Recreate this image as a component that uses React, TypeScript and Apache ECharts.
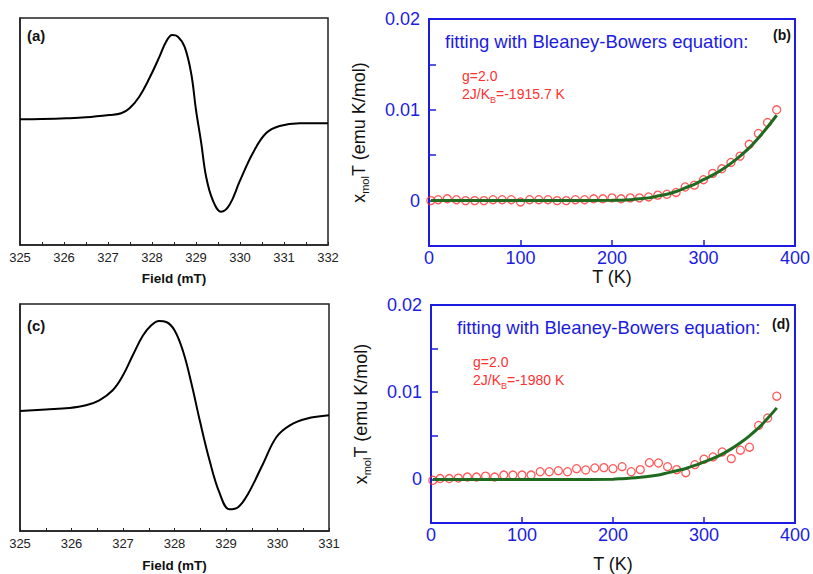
import React, { useEffect, useRef } from "react";
import * as echarts from "echarts";

// Panel (a) EPR spectrum
const fieldA = [325.0, 325.5, 326.05, 326.5, 327.03, 327.3, 327.49, 327.71, 327.94, 328.17, 328.32, 328.46, 328.59, 328.74, 328.89, 329.0, 329.12, 329.23, 329.38, 329.57, 329.76, 329.99, 330.29, 330.59, 330.9, 331.36, 332.0];
const intensityA = [125.7, 126.0, 126.7, 127.7, 130, 131.7, 136.7, 148.3, 166.7, 188.3, 203.3, 210, 208.3, 198.3, 171.7, 135, 101.7, 68.3, 45, 33.3, 40, 63.3, 91.7, 111.7, 119, 121.7, 121.7];

// Panel (c) EPR spectrum
const fieldC = [325.0, 325.5, 325.96, 326.28, 326.54, 326.8, 327.0, 327.19, 327.39, 327.55, 327.7, 327.84, 328.0, 328.17, 328.33, 328.49, 328.68, 328.88, 329.07, 329.24, 329.43, 329.72, 329.98, 330.24, 330.56, 331.0];
const intensityC = [120, 121.5, 123, 125.7, 130.7, 140.7, 155.7, 175.7, 195.7, 205.7, 210, 209, 200.7, 179, 147.3, 110.7, 70.7, 37.3, 21.7, 24, 37.3, 67.3, 94, 105.7, 112.3, 115.7];

// Temperatures of measured points (b) and (d)
const tempPts = [2, 10, 20, 30, 40, 50, 60, 70, 80, 90, 100, 110, 120, 130, 140, 150, 160, 170, 180, 190, 200, 210, 220, 230, 240, 250, 260, 270, 280, 290, 300, 310, 320, 330, 340, 350, 360, 370, 380];
const chiTB = [0, 0.0001, 0.0002, 0.0001, 0, 0, 0, 0.0001, 0.0001, 0.0001, -0.00015, 0.0001, 0.0001, 0.0001, 0, 0, 0.0001, 0.0001, 0.0002, 0.0002, 0.0003, 0.0002, 0.0003, 0.0003, 0.0004, 0.0006, 0.0007, 0.0009, 0.0015, 0.0017, 0.0023, 0.003, 0.0035, 0.0042, 0.0049, 0.0062, 0.0074, 0.0086, 0.01];
const chiTD = [-0.0001, 0.0001, 0.0001, 0.00015, 0.00027, 0.00027, 0.00038, 0.00027, 0.0005, 0.0005, 0.0005, 0.0005, 0.00088, 0.00088, 0.001, 0.00088, 0.00123, 0.00108, 0.00131, 0.00135, 0.00123, 0.00146, 0.00088, 0.00112, 0.00192, 0.00188, 0.00146, 0.00112, 0.00077, 0.00169, 0.00231, 0.00258, 0.00315, 0.00238, 0.00335, 0.00369, 0.00619, 0.00704, 0.00954];

// Fit curves
const fitTB = [2, 50, 100, 150, 200, 220, 230, 240, 250, 260, 270, 280, 290, 300, 310, 320, 330, 340, 350, 360, 370, 380];
const fitB = [0, 0, 0, 0, 0.00003, 0.0001, 0.0002, 0.0003, 0.0005, 0.0007, 0.001, 0.0014, 0.0018, 0.0023, 0.0028, 0.0034, 0.0041, 0.0049, 0.0058, 0.0069, 0.0081, 0.0094];
const fitTD = [2, 50, 100, 150, 200, 210, 220, 230, 240, 250, 260, 270, 280, 290, 300, 310, 320, 330, 340, 350, 360, 370, 380];
const fitD = [0, 0, 0, 0, 0.00002, 0.00008, 0.00015, 0.00024, 0.00035, 0.0005, 0.00075, 0.001, 0.00125, 0.0016, 0.002, 0.0024, 0.0029, 0.0035, 0.0042, 0.005, 0.0059, 0.007, 0.0082];

const chiTicks = [-0.005, 0, 0.005, 0.01, 0.015, 0.02];

const BLUE = "#1c1ce0";
const RED = "#ff3030";
const GREEN = "#1f6a1f";
const FONT = "Liberation Sans, Arial, sans-serif";

const zip = (a: number[], b: number[]) => a.map((v, i) => [v, b[i]]);

export default function App() {
  const ref = useRef<HTMLDivElement>(null);
  useEffect(() => {
    if (!ref.current) return;
    const chart = echarts.init(ref.current, undefined, { renderer: "svg" });

    const eprX = (gi: number, max: number, gap: number) => ({
      type: "value",
      gridIndex: gi,
      min: 325,
      max,
      interval: 1,
      name: "Field (mT)",
      nameLocation: "middle",
      nameGap: gap,
      nameTextStyle: { fontSize: 13.5, fontWeight: "bold", color: "#111", fontFamily: FONT },
      axisLine: { show: true, onZero: false, lineStyle: { color: "#222", width: 1.5 } },
      axisTick: { show: true, inside: true, length: 3, lineStyle: { color: "#222" } },
      minorTick: { show: true, splitNumber: 2, length: 3, lineStyle: { color: "#222" } },
      axisLabel: { fontSize: 13, color: "#222", margin: 6, fontFamily: FONT },
      splitLine: { show: false },
    });
    const eprY = (gi: number) => ({
      type: "value",
      gridIndex: gi,
      min: 0,
      max: 227,
      axisLine: { show: true, onZero: false, lineStyle: { color: "#222", width: 1.5 } },
      axisTick: { show: false },
      axisLabel: { show: false },
      splitLine: { show: false },
    });
    const tX = (gi: number, gap: number) => ({
      type: "value",
      gridIndex: gi,
      min: 0,
      max: 400,
      interval: 100,
      name: "T (K)",
      nameLocation: "middle",
      nameGap: gap,
      nameTextStyle: { fontSize: 18, color: "#111", fontFamily: FONT },
      axisLine: { show: true, onZero: false, lineStyle: { color: BLUE, width: 2 } },
      axisTick: { show: true, inside: true, length: 6, lineStyle: { color: BLUE, width: 1.5 } },
      axisLabel: { fontSize: 18, color: BLUE, margin: 3, fontFamily: FONT },
      splitLine: { show: false },
    });
    const chiY = (gi: number) => ({
      type: "value",
      gridIndex: gi,
      min: chiTicks[0],
      max: chiTicks[chiTicks.length - 1],
      interval: 0.005,
      name: "{a|x}{b|mol}{a|T (emu K/mol)}",
      nameLocation: "middle",
      nameGap: 59,
      nameRotate: 90,
      nameTextStyle: {
        fontFamily: FONT,
        color: "#111",
        rich: {
          a: { fontSize: 18, color: "#111", fontFamily: FONT },
          b: { fontSize: 11, color: "#111", fontFamily: FONT, padding: [12, 0, 0, 0] },
        },
      },
      axisLine: { show: true, onZero: false, lineStyle: { color: BLUE, width: 2 } },
      axisTick: { show: true, inside: true, length: 7, lineStyle: { color: BLUE, width: 1.5 } },
      axisLabel: {
        fontSize: 18,
        color: BLUE,
        margin: 9,
        fontFamily: FONT,
        padding: [0, 0, 7, 0],
        formatter: (v: number) => {
          const r = Math.round(v / 0.01);
          if (Math.abs(v - r * 0.01) > 1e-9) return "";
          return r === 0 ? "0" : (r * 0.01).toFixed(2);
        },
      },
      splitLine: { show: false },
    });

    const txt = (x: number, y: number, text: string, opts: any) => ({
      type: "text",
      x,
      y,
      style: { text, fontFamily: FONT, verticalAlign: "middle", align: "left", ...opts },
    });

    chart.setOption({
      animation: false,
      textStyle: { fontFamily: FONT },
      grid: [
        { left: 20, top: 18, width: 308, height: 227, show: true, borderColor: "#222", borderWidth: 1.5 },
        { left: 429, top: 19, width: 371, height: 227, show: true, borderColor: BLUE, borderWidth: 2 },
        { left: 20, top: 304, width: 309, height: 227, show: true, borderColor: "#222", borderWidth: 1.5 },
        { left: 431, top: 305, width: 366, height: 219, show: true, borderColor: BLUE, borderWidth: 2 },
      ],
      xAxis: [eprX(0, 332, 26), tX(1, 22), eprX(2, 331, 27), tX(3, 32)],
      yAxis: [eprY(0), chiY(1), eprY(2), chiY(3)],
      series: [
        {
          type: "line", xAxisIndex: 0, yAxisIndex: 0, data: zip(fieldA, intensityA),
          smooth: 0.4, showSymbol: false, lineStyle: { color: "#000", width: 2 },
        },
        {
          type: "line", xAxisIndex: 2, yAxisIndex: 2, data: zip(fieldC, intensityC),
          smooth: 0.4, showSymbol: false, lineStyle: { color: "#000", width: 2 },
        },
        {
          type: "line", xAxisIndex: 1, yAxisIndex: 1, data: zip(fitTB, fitB),
          smooth: 0.3, showSymbol: false, lineStyle: { color: GREEN, width: 3 },
        },
        {
          type: "scatter", xAxisIndex: 1, yAxisIndex: 1, data: zip(tempPts, chiTB),
          symbol: "circle", symbolSize: 8,
          itemStyle: { color: "rgba(0,0,0,0)", borderColor: RED, borderWidth: 1.3 },
        },
        {
          type: "line", xAxisIndex: 3, yAxisIndex: 3, data: zip(fitTD, fitD),
          smooth: 0.3, showSymbol: false, lineStyle: { color: GREEN, width: 3 },
        },
        {
          type: "scatter", xAxisIndex: 3, yAxisIndex: 3, data: zip(tempPts, chiTD),
          symbol: "circle", symbolSize: 8,
          itemStyle: { color: "rgba(0,0,0,0)", borderColor: RED, borderWidth: 1.3 },
        },
      ],
      graphic: [
        txt(27, 35, "(a)", { fontSize: 15, fontWeight: "bold", fill: "#111" }),
        txt(27, 325, "(c)", { fontSize: 15, fontWeight: "bold", fill: "#111" }),
        txt(773, 35, "(b)", { fontSize: 14, fontWeight: "bold", fill: "#111" }),
        txt(772, 324, "(d)", { fontSize: 14, fontWeight: "bold", fill: "#111" }),
        txt(445, 41, "fitting with Bleaney-Bowers equation:", { fontSize: 18.5, fill: BLUE }),
        txt(457, 327, "fitting with Bleaney-Bowers equation:", { fontSize: 18.5, fill: BLUE }),
        txt(462, 76, "g=2.0", { fontSize: 14, fill: RED }),
        txt(462, 94, "2J/K{s|B}=-1915.7 K", { fontSize: 14, fill: RED, rich: { s: { fontSize: 9, fill: RED, padding: [12, 0, 0, 0] } } }),
        txt(473, 362, "g=2.0", { fontSize: 14, fill: RED }),
        txt(473, 380, "2J/K{s|B}=-1980 K", { fontSize: 14, fill: RED, rich: { s: { fontSize: 9, fill: RED, padding: [12, 0, 0, 0] } } }),
      ],
    });
    return () => chart.dispose();
  }, []);
  return <div ref={ref} style={{ position: "absolute", left: 0, top: 0, width: 813, height: 574, background: "#fff" }} />;
}
